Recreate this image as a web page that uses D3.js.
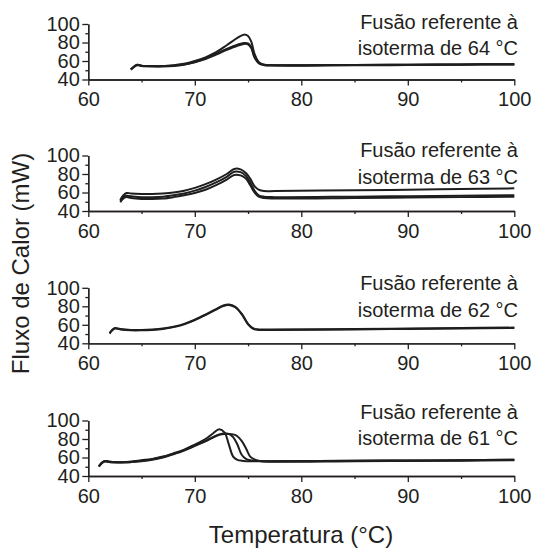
<!DOCTYPE html>
<html>
<head>
<meta charset="utf-8">
<script src="https://cdn.jsdelivr.net/npm/d3@7"></script>
<style>
  body { margin: 0; background: #fff; }
  text { font-family: "Liberation Sans", Arial, sans-serif; fill: #231f20; }
</style>
</head>
<body>
<div class="chart"></div>
<script>
// isotherm temperature of each panel (top to bottom)
var isotherms = [64, 63, 62, 61];

// panel 1: 64 °C
var x64 = [64, 64.3, 64.6, 65, 66, 67, 68, 69, 70, 71, 72, 73, 74, 74.6, 75, 75.3, 75.6, 76, 76.5, 77.5, 85, 90, 95, 100];
var y64a = [51, 54, 56, 55, 54.5, 54.5, 55.5, 57, 60, 64, 69.5, 77, 85, 88.5, 87, 81, 68, 59, 56, 55.5, 55.8, 56, 56.3, 56.5];
var y64b = [51, 54, 56, 55, 54.5, 54.5, 55, 56.5, 59, 63, 68, 73, 77.5, 79.5, 79, 75, 65, 58, 56, 55.5, 55.8, 56, 56.3, 56.5];
var y64c = [50.5, 53.5, 55.5, 54.5, 54, 54, 54.5, 56, 58.5, 62, 67, 72, 76.5, 78.5, 78, 74, 64, 57.5, 55.5, 55, 55.3, 55.6, 56, 56.2];

// panel 2: 63 °C
var x63 = [63, 63.3, 63.6, 64, 65, 66, 67, 68, 69, 70, 71, 72, 73, 73.7, 74.3, 74.8, 75.2, 75.6, 76, 76.5, 77.5, 85, 90, 95, 100];
var y63a = [52, 57, 59.5, 59, 58.5, 58.5, 59, 60, 62, 65, 69, 74, 80, 85.5, 85, 81, 75, 67, 63, 61.5, 61.5, 62.5, 63, 63.8, 64.5];
var y63b = [51, 55, 56.5, 56, 55, 55, 55.5, 57, 59, 62, 66, 71, 77, 82.5, 82, 78, 71, 62, 57, 55.5, 55, 55.5, 56, 56.5, 57];
var y63c = [49.5, 53.5, 55, 54, 53, 53, 53.5, 55, 57, 59.5, 63, 68, 74, 79, 78.5, 75, 68, 60, 55.5, 54, 53.5, 54, 54.5, 55, 55.5];

// panel 3: 62 °C
var x62 = [62, 62.2, 62.5, 63, 64, 65, 66, 67, 68, 69, 70, 71, 72, 72.6, 73.2, 73.8, 74.4, 75, 75.5, 76, 77, 85, 90, 95, 100];
var y62a = [51, 54, 56.5, 55.5, 54.5, 54.5, 55, 56, 58, 61, 65.5, 71, 77, 80.5, 82, 79.5, 72, 61, 56, 55, 55, 55.5, 56, 56.5, 57];
var y62b = [50.5, 53.5, 56, 55, 54, 54, 54.5, 55.5, 57.5, 60.5, 65, 70.5, 76.5, 80, 81.5, 79, 71.5, 60.5, 55.5, 54.5, 54.5, 55, 55.5, 56, 56.5];

// panel 4: 61 °C
var x61 = [61, 61.2, 61.5, 62, 63, 64, 65, 66, 67, 68, 69, 70, 71, 71.7, 72.3, 72.8, 73.2, 73.6, 74, 74.4, 74.8, 75.2, 75.7, 76.3, 77, 85, 90, 95, 100];
var y61a = [50.5, 53.5, 56, 55.5, 55, 55.5, 57, 58.5, 61, 64.5, 68.5, 74, 80, 86, 90.5, 87, 74, 61, 57.5, 56.5, 56, 56, 56, 56, 56, 56.5, 56.8, 57, 57.5];
var y61b = [50.5, 53.5, 56, 55.5, 55, 55.5, 56.5, 58, 60.5, 64, 68, 73, 78, 82, 85, 86, 85.5, 82, 74, 63, 58.5, 57, 56.5, 56, 56, 56.5, 56.8, 57, 57.5];
var y61c = [50, 53, 55.5, 55, 54.5, 55, 56, 57.5, 60, 63.5, 67.5, 72.5, 77.5, 81.5, 84.5, 85.5, 85.5, 85, 83, 78, 70, 61, 57.5, 56, 55.5, 56, 56.3, 56.5, 57];

var xTicks = [60, 70, 80, 90, 100];
var xMinor = [65, 75, 85, 95];
var yTicks = [40, 60, 80, 100];
var yMinor = [50, 70, 90];

var panels = [
    {x: x64, ys: [y64a, y64b, y64c]},
    {x: x63, ys: [y63a, y63b, y63c]},
    {x: x62, ys: [y62a, y62b]},
    {x: x61, ys: [y61a, y61b, y61c]}
];

// layout
var svgWidth = 535;
var svgHeight = 548;
var axisY = [79.5, 211, 343.3, 476];
var textY = [[29, 55], [157, 184], [290, 317], [419, 445]];
var panelHeight = 55.5;

var svg = d3.select(".chart")
    .append("svg")
    .attr("width", svgWidth)
    .attr("height", svgHeight);

var xScale = d3.scaleLinear()
    .domain([60, 100])
    .range([88.3, 514.3]);

panels.forEach(function(p, i) {
    var g = svg.append("g")
        .attr("transform", `translate(0, ${axisY[i] - panelHeight})`);

    var yScale = d3.scaleLinear()
        .domain([40, 100])
        .range([panelHeight, 0]);

    // x axis
    var xAxis = g.append("g")
        .attr("transform", `translate(0, ${panelHeight})`)
        .call(d3.axisBottom(xScale).tickValues(xTicks).tickSize(6).tickPadding(6.3).tickSizeOuter(0));
    g.append("g")
        .attr("transform", `translate(0, ${panelHeight})`)
        .call(d3.axisBottom(xScale).tickValues(xMinor).tickSize(3).tickFormat("").tickSizeOuter(0));

    // y axis
    var yAxis = g.append("g")
        .attr("transform", `translate(${xScale(60)}, 0)`)
        .call(d3.axisLeft(yScale).tickValues(yTicks).tickSize(6).tickPadding(2.5).tickSizeOuter(0));
    g.append("g")
        .attr("transform", `translate(${xScale(60)}, 0)`)
        .call(d3.axisLeft(yScale).tickValues(yMinor).tickSize(3).tickFormat("").tickSizeOuter(0));

    g.selectAll(".domain, .tick line")
        .attr("stroke", "#231f20")
        .attr("stroke-width", 1.3);
    g.selectAll(".tick text")
        .attr("font-size", "20px")
        .attr("fill", "#231f20");

    // curves
    var line = d3.line()
        .x(d => xScale(d[0]))
        .y(d => yScale(d[1]))
        .curve(d3.curveCatmullRom.alpha(0.5));

    p.ys.forEach(function(ys) {
        var pts = p.x.map((xv, k) => [xv, ys[k]]);
        g.append("path")
            .datum(pts)
            .attr("d", line)
            .attr("fill", "none")
            .attr("stroke", "#1e1e1e")
            .attr("stroke-width", 2);
    });

    // annotation
    svg.append("text")
        .attr("x", 518)
        .attr("y", textY[i][0])
        .attr("text-anchor", "end")
        .attr("font-size", "20px")
        .text("Fusão referente à");
    svg.append("text")
        .attr("x", 518)
        .attr("y", textY[i][1])
        .attr("text-anchor", "end")
        .attr("font-size", "20px")
        .text(`isoterma de ${isotherms[i]} °C`);
});

// axis titles
svg.append("text")
    .attr("transform", "translate(29, 263.5) rotate(-90)")
    .attr("text-anchor", "middle")
    .attr("font-size", "24px")
    .text("Fluxo de Calor (mW)");

svg.append("text")
    .attr("x", 301)
    .attr("y", 543)
    .attr("text-anchor", "middle")
    .attr("font-size", "24px")
    .text("Temperatura (°C)");
</script>
</body>
</html>
